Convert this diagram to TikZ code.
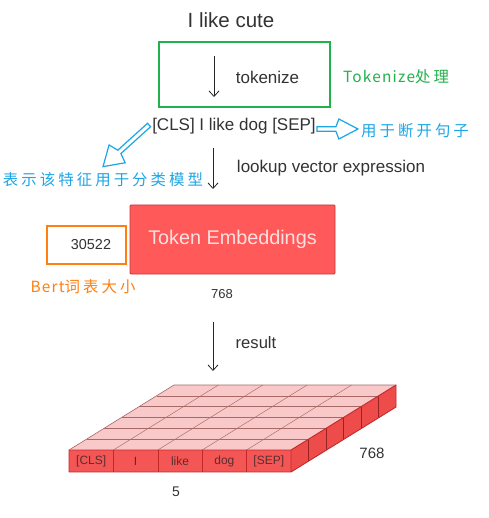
\documentclass[tikz,border=0pt]{standalone}
\usepackage{fontspec}
\setmainfont{Liberation Sans}
\newfontfamily\cjk{Noto Sans CJK SC}[LetterSpace=20]
\newfontfamily\cjklat{Noto Sans CJK SC}[LetterSpace=8]
\usetikzlibrary{arrows.meta,calc}
\definecolor{txt}{HTML}{333333}
\definecolor{tkgreen}{HTML}{22B14C}
\definecolor{annblue}{HTML}{1DA6E6}
\definecolor{annorange}{HTML}{FF7F0F}
\definecolor{embred}{HTML}{FF5959}
\definecolor{embedge}{HTML}{C8363C}
\definecolor{topfill}{HTML}{F9C8C8}
\definecolor{gridline}{HTML}{A86868}
\definecolor{frontfill}{HTML}{F45656}
\definecolor{sidefill}{HTML}{EE4B4B}
\definecolor{cubeedge}{HTML}{C22A2A}
\definecolor{celltxt}{HTML}{5A2E2E}
\newcommand\hollowarrow[4]{%
  \draw[annblue, line width=1.2pt, line join=miter]
    let \p1=(#1), \p2=(#2),
        \n1={atan2(\y2-\y1,\x2-\x1)},
        \n2={veclen(\x2-\x1,\y2-\y1)} in
    {[shift={(\x1,\y1)}, rotate=\n1]
      (0pt,2.3pt) -- (\n2-#3pt,2.3pt) -- (\n2-#3pt+3pt,#4pt) -- (\n2,0pt)
      -- (\n2-#3pt+3pt,-#4pt) -- (\n2-#3pt,-2.3pt) -- (0pt,-2.3pt) -- cycle};}
\begin{document}
\begin{tikzpicture}[x=1pt,y=-1pt,
  plain/.style={inner sep=0pt, text=txt, font=\fontsize{17}{20}\selectfont},
  ann/.style={inner sep=0pt, font=\cjk\fontsize{15.4}{18}\selectfont},
  darr/.style={draw=black!85, line width=0.8pt, -{Straight Barb[length=5.5pt,width=10pt]}},
  cell/.style={inner sep=0pt, text=celltxt, font=\fontsize{12}{14}\selectfont}]
\useasboundingbox[fill=white] (0,0) rectangle (488,518);

% top
\node[plain, font=\fontsize{20.5}{24}\selectfont] (title) at (231,20) {I like cute};
\node[draw=tkgreen, line width=1.3pt, minimum width=171pt, minimum height=65pt, inner sep=0pt] (tkbox) at (244.5,74.5) {};
\coordinate (a1s) at (214,56);
\coordinate (a1e) at (214,97);
\draw[darr] (a1s) -- (a1e);
\node[plain] (tokenize) at (267.5,77) {tokenize};
\node[ann, text=tkgreen] (tknote) at (396,77) {{\cjklat Tokenize}处理};

% tokens
\node[plain] (tok) at (234,126) {[CLS] I like dog [SEP]};
\node[ann, text=annblue] (sepnote) at (415,131) {用于断开句子};
\node[ann, text=annblue] (clsnote) at (103,180) {表示该特征用于分类模型};
\coordinate (r1) at ($(tok.east)+(1,3)$);
\coordinate (r2) at ($(sepnote.west)+(-3,-2)$);
\hollowarrow{r1}{r2}{22}{10}
\coordinate (l1) at ($(tok.west)+(-3,-1)$);
\coordinate (l2) at ($(clsnote.north)+(0,-6)$);
\hollowarrow{l1}{l2}{22}{12}

\coordinate (a2s) at (213,148);
\coordinate (a2e) at (213,189);
\draw[darr] (a2s) -- (a2e);
\node[plain] (lookup) at (331,168) {lookup vector expression};

% embeddings
\node[draw=embedge, fill=embred, line width=0.8pt, rounded corners=1pt,
      minimum width=205pt, minimum height=69pt, inner sep=0pt,
      text=white!88!red, font=\fontsize{19.8}{23}\selectfont] (emb) at (232.5,239.5) {Token Embeddings};
\node[draw=annorange, line width=1.3pt, minimum width=79pt, minimum height=38pt, inner sep=0pt,
      text=txt, font=\fontsize{14.4}{17}\selectfont] (vocab) at (86.5,245) {\hspace*{9pt}30522};
\node[ann, text=annorange] (vocabnote) at (83,287) {{\cjklat Bert}词表大小};
\node[plain, font=\fontsize{13}{15}\selectfont] (dim1) at (222,294) {768};

\coordinate (a3s) at (213,322);
\coordinate (a3e) at (213,371);
\draw[darr] (a3s) -- (a3e);
\node[plain, font=\fontsize{16.6}{19}\selectfont] (result) at (256,343) {result};

% cube
\coordinate (A) at (69,450);
\coordinate (B) at (291,450);
\coordinate (C) at (291,472);
\coordinate (D) at (69,472);
\coordinate (off) at (105,-65);
\fill[topfill] (A) -- (B) -- ($(B)+(off)$) -- ($(A)+(off)$) -- cycle;
\foreach \i in {1,...,4}{
  \draw[gridline, line width=0.45pt] ($(A)!\i/5!(B)$) -- ++(off);}
\foreach \j in {1,...,5}{
  \draw[gridline, line width=0.45pt] ($(A)+\j/6*(off)$) -- ($(B)+\j/6*(off)$);}
\fill[sidefill] (B) -- ($(B)+(off)$) -- ($(C)+(off)$) -- (C) -- cycle;
\foreach \j in {1,...,5}{
  \draw[cubeedge!80!black, line width=0.4pt] ($(B)+\j/6*(off)$) -- ($(C)+\j/6*(off)$);}
\fill[frontfill] (A) rectangle (C);
\foreach \i in {1,...,4}{
  \draw[cubeedge, line width=0.5pt] ($(A)!\i/5!(B)$) -- ($(D)!\i/5!(C)$);}
\draw[cubeedge, line width=0.9pt, line join=round] (D) -- (A) -- (B) -- (C) -- cycle
  (B) -- ($(B)+(off)$) -- ($(C)+(off)$) -- (C);
\draw[gridline, line width=0.6pt] (A) -- ($(A)+(off)$) -- ($(B)+(off)$);
\foreach \t [count=\i] in {[CLS],I,like,dog,[SEP]}{
  \node[cell] (c\i) at ($(A)!{(\i-0.5)/5}!(B)+(0,11.5)$) {\t};}
\node[plain, font=\fontsize{15}{18}\selectfont] (dim2) at (372,453) {768};
\node[plain, font=\fontsize{14}{17}\selectfont] (dim3) at (176,492) {5};
\end{tikzpicture}
\end{document}
